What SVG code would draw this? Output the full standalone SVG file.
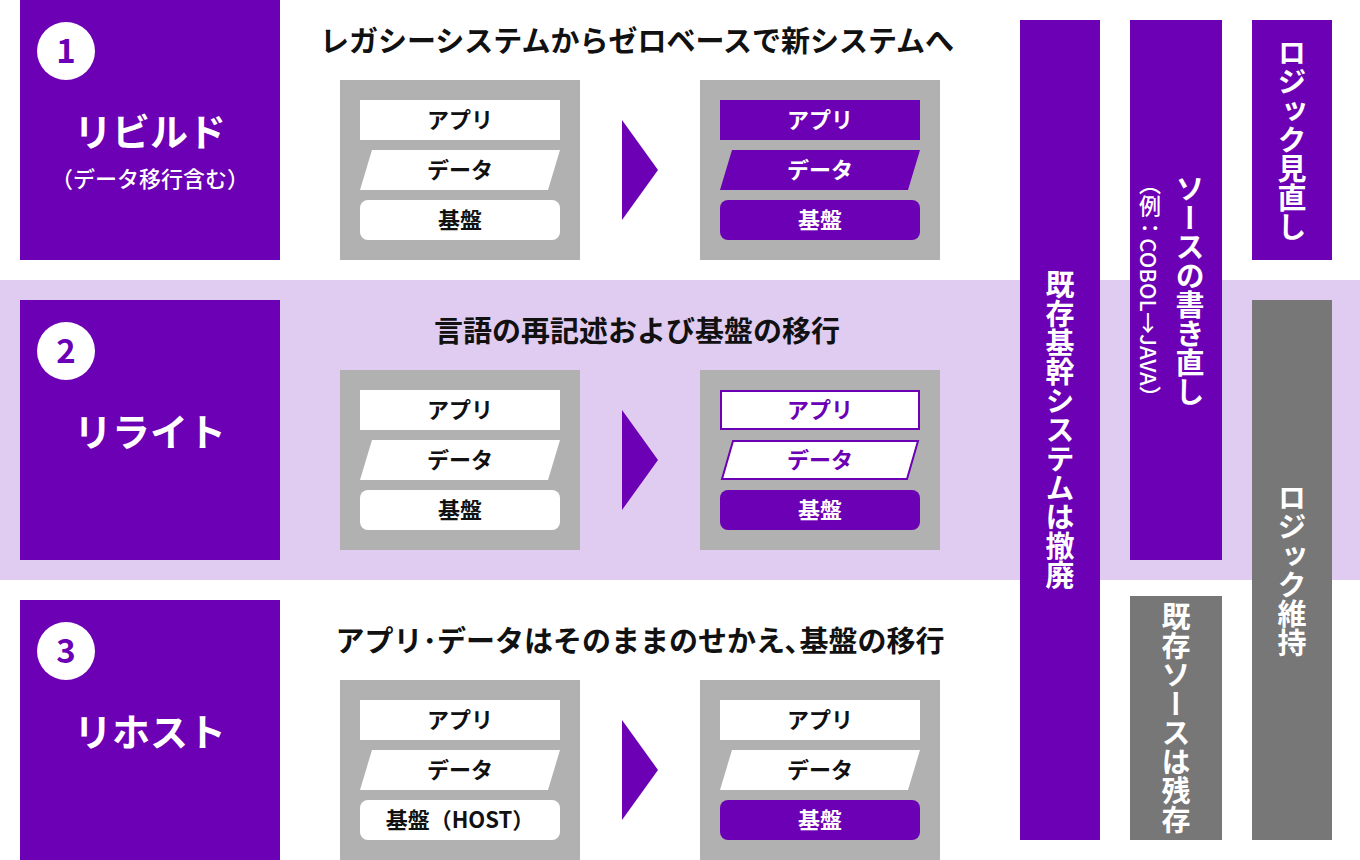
<svg xmlns="http://www.w3.org/2000/svg" width="1360" height="860" viewBox="0 0 1360 860">
<style>
text{font-family:"Noto Sans CJK JP","Noto Sans",sans-serif;font-weight:700}
.p{fill:#6c00b4}.g{fill:#b1b1b1}.dg{fill:#777}
.t{font-size:22px;text-anchor:middle;fill:#111}
.tw{font-size:22px;text-anchor:middle;fill:#fff}
.tp{font-size:22px;text-anchor:middle;fill:#6c00b4}
.h{font-size:29px;text-anchor:middle;fill:#111}
.big{font-size:38px;text-anchor:middle;fill:#fff}
.num{font-size:33px;text-anchor:middle;fill:#6c00b4}
.v{writing-mode:vertical-rl;font-size:29px;fill:#fff;text-anchor:middle}
.vs{writing-mode:vertical-rl;font-size:22px;fill:#fff;text-anchor:middle;font-weight:500}
.wb{fill:#fff;stroke:#6c00b4;stroke-width:2}
</style>
<rect x="0" y="280" width="1360" height="300" fill="#e0ccf0"/>
<g id="n1"><rect class="p" x="20" y="0" width="260" height="260"/><circle cx="66" cy="51" r="29" fill="#fff"/><text class="num" x="66" y="63">1</text><text class="big" x="150" y="146">リビルド</text><text x="150" y="187" style="font-size:22px;font-weight:500;fill:#fff;text-anchor:middle">（データ移行含む）</text></g>
<g id="n2"><rect class="p" x="20" y="300" width="260" height="260"/><circle cx="66" cy="351" r="29" fill="#fff"/><text class="num" x="66" y="363">2</text><text class="big" x="150" y="446">リライト</text></g>
<g id="n3"><rect class="p" x="20" y="600" width="260" height="260"/><circle cx="66" cy="651" r="29" fill="#fff"/><text class="num" x="66" y="663">3</text><text class="big" x="150" y="746">リホスト</text></g>
<text class="h" x="637" y="52">レガシーシステムからゼロベースで新システムへ</text>
<text class="h" x="637" y="342">言語の再記述および基盤の移行</text>
<text class="h" x="640" y="652">アプリ･データはそのままのせかえ､基盤の移行</text>
<g id="r1">
<rect class="g" x="340" y="80" width="240" height="180"/>
<rect fill="#fff" x="360" y="100" width="200" height="40"/><text class="t" x="460" y="128">アプリ</text>
<polygon fill="#fff" points="372,150 560,150 548,190 360,190"/><text class="t" x="460" y="178">データ</text>
<rect fill="#fff" x="360" y="200" width="200" height="40" rx="8"/><text class="t" x="460" y="228">基盤</text>
<polygon class="p" points="622,120 658,170 622,220"/>
<rect class="g" x="700" y="80" width="240" height="180"/>
<rect class="p" x="720" y="100" width="200" height="40"/><text class="tw" x="820" y="128">アプリ</text>
<polygon class="p" points="732,150 920,150 908,190 720,190"/><text class="tw" x="820" y="178">データ</text>
<rect class="p" x="720" y="200" width="200" height="40" rx="8"/><text class="tw" x="820" y="228">基盤</text>
</g>
<g id="r2">
<rect class="g" x="340" y="370" width="240" height="180"/>
<rect fill="#fff" x="360" y="390" width="200" height="40"/><text class="t" x="460" y="418">アプリ</text>
<polygon fill="#fff" points="372,440 560,440 548,480 360,480"/><text class="t" x="460" y="468">データ</text>
<rect fill="#fff" x="360" y="490" width="200" height="40" rx="8"/><text class="t" x="460" y="518">基盤</text>
<polygon class="p" points="622,410 658,460 622,510"/>
<rect class="g" x="700" y="370" width="240" height="180"/>
<rect class="wb" x="721" y="391" width="198" height="38"/><text class="tp" x="820" y="418">アプリ</text>
<polygon class="wb" points="733,441 918,441 907,479 722,479"/><text class="tp" x="820" y="468">データ</text>
<rect class="p" x="720" y="490" width="200" height="40" rx="8"/><text class="tw" x="820" y="518">基盤</text>
</g>
<g id="r3">
<rect class="g" x="340" y="680" width="240" height="180"/>
<rect fill="#fff" x="360" y="700" width="200" height="40"/><text class="t" x="460" y="728">アプリ</text>
<polygon fill="#fff" points="372,750 560,750 548,790 360,790"/><text class="t" x="460" y="778">データ</text>
<rect fill="#fff" x="360" y="800" width="200" height="40" rx="8"/><text class="t" x="460" y="828">基盤（HOST）</text>
<polygon class="p" points="622,720 658,770 622,820"/>
<rect class="g" x="700" y="680" width="240" height="180"/>
<rect fill="#fff" x="720" y="700" width="200" height="40"/><text class="t" x="820" y="728">アプリ</text>
<polygon fill="#fff" points="732,750 920,750 908,790 720,790"/><text class="t" x="820" y="778">データ</text>
<rect class="p" x="720" y="800" width="200" height="40" rx="8"/><text class="tw" x="820" y="828">基盤</text>
</g>
<g id="c1"><rect class="p" x="1020" y="20" width="80" height="820"/><text class="v" x="1060" y="430">既存基幹システムは撤廃</text></g>
<g id="c2"><rect class="p" x="1130" y="20" width="92" height="540"/><text class="v" x="1190" y="290">ソースの書き直し</text><text class="vs" x="1150" y="290">（例：COBOL→JAVA）</text></g>
<g id="c3"><rect class="dg" x="1130" y="596" width="92" height="244"/><text class="v" x="1176" y="718">既存ソースは残存</text></g>
<g id="c4"><rect class="p" x="1252" y="20" width="80" height="240"/><text class="v" x="1292" y="140">ロジック見直し</text></g>
<g id="c5"><rect class="dg" x="1252" y="300" width="80" height="540"/><text class="v" x="1292" y="570">ロジック維持</text></g>
</svg>
